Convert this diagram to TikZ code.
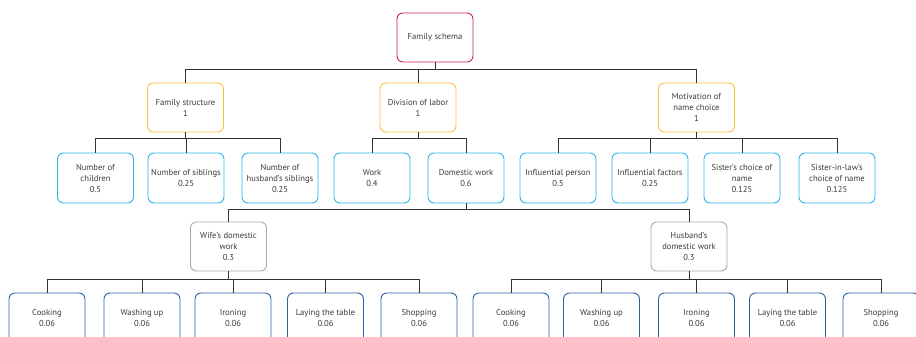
\documentclass[tikz,border=0pt]{standalone}
\usepackage{fontspec}
\setmainfont{PT Sans}
\usetikzlibrary{positioning}

\definecolor{schemared}{HTML}{C8235E}
\definecolor{mainyellow}{HTML}{F9C23C}
\definecolor{subcyan}{HTML}{2BB5E6}
\definecolor{partgray}{HTML}{A9A9A9}
\definecolor{taskblue}{HTML}{2F5FA6}
\definecolor{textgray}{HTML}{3A3A3A}
\definecolor{linegray}{HTML}{333333}

\tikzset{
    box/.style={draw, rounded corners=6pt, line width=0.9pt, minimum width=76pt,
        minimum height=49pt, align=center, inner sep=1pt, text=textgray,
        font=\fontsize{8.6}{11}\selectfont},
    rootbox/.style={box, draw=schemared},
    mainbox/.style={box, draw=mainyellow},
    subbox/.style={box, draw=subcyan, minimum height=50pt},
    partbox/.style={box, draw=partgray},
    taskbox/.style={box, draw=taskblue, minimum height=50pt},
    link/.style={draw=linegray, line width=0.8pt}
}

\begin{document}
\begin{tikzpicture}[x=1pt, y=-1pt]
    \clip (0,0) rectangle (916,337);

    % root
    \node[rootbox] (root) at (435,37.5) {Family schema};

    % main factors
    \node[mainbox] (struct) at (185.5,107.5) {Family structure\\1};
    \node[mainbox] (labor) at (418,107.5) {Division of labor\\1};
    \node[mainbox] (motiv) at (696.5,107.5) {Motivation of\\name choice\\1};

    % sub factors
    \node[subbox] (children) at (95.5,178) {Number of\\children\\0.5};
    \node[subbox] (siblings) at (186,178) {Number of siblings\\0.25};
    \node[subbox] (hsiblings) at (280,178) {Number of\\husband's siblings\\0.25};
    \node[subbox] (work) at (372,178) {Work\\0.4};
    \node[subbox] (domestic) at (466,178) {Domestic work\\0.6};
    \node[subbox] (person) at (558,178) {Influential person\\0.5};
    \node[subbox] (factors) at (650,178) {Influential factors\\0.25};
    \node[subbox] (sister) at (742,178) {Sister's choice of\\name\\0.125};
    \node[subbox] (sisterlaw) at (837,178) {Sister-in-law's\\choice of name\\0.125};

    % domestic work split
    \node[partbox] (wife) at (228.5,246.5) {Wife's domestic\\work\\0.3};
    \node[partbox] (husband) at (689,246.5) {Husband's\\domestic work\\0.3};

    % tasks
    \foreach \n/\x/\t in {1/47/Cooking, 2/142/Washing up, 3/233/Ironing,
        4/325.5/Laying the table, 5/419/Shopping} {
        \node[taskbox] (w\n) at (\x,318) {\t\\0.06};
    }
    \foreach \n/\x/\t in {1/511/Cooking, 2/601.5/Washing up, 3/696.5/Ironing,
        4/787.5/Laying the table, 5/881/Shopping} {
        \node[taskbox] (h\n) at (\x,318) {\t\\0.06};
    }

    % connectors
    \foreach \c in {struct, labor, motiv} {
        \draw[link] (root.south) -- ++(0,7) -| (\c.north);
    }
    \foreach \c in {children, siblings, hsiblings} {
        \draw[link] (struct.south) -- ++(0,6) -| (\c.north);
    }
    \foreach \c in {work, domestic} {
        \draw[link] (labor.south) -- ++(0,6) -| (\c.north);
    }
    \foreach \c in {person, factors, sister, sisterlaw} {
        \draw[link] (motiv.south) -- ++(0,6) -| (\c.north);
    }
    \foreach \c in {wife, husband} {
        \draw[link] (domestic.south) -- ++(0,6) -| (\c.north);
    }
    \foreach \n in {1,...,5} {
        \draw[link] (wife.south) -- ++(0,8) -| (w\n.north);
        \draw[link] (husband.south) -- ++(0,8) -| (h\n.north);
    }
\end{tikzpicture}
\end{document}
